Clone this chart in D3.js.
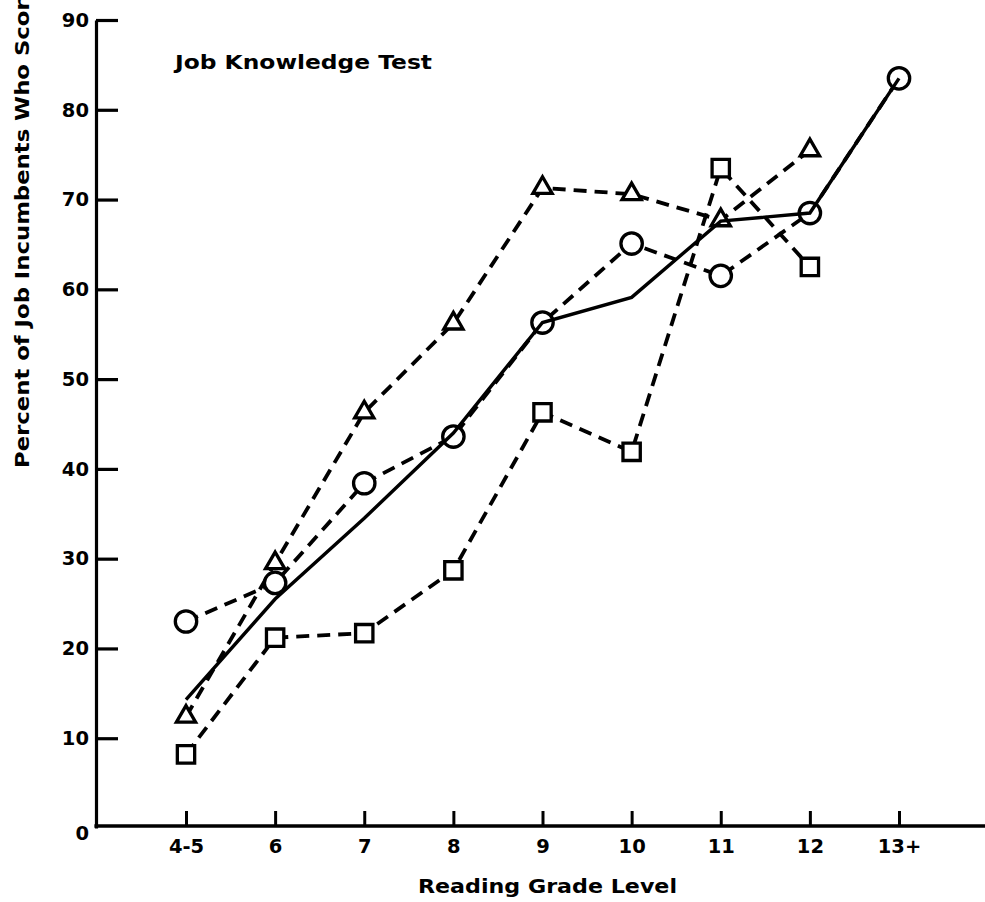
<!DOCTYPE html>
<html>
<head>
<meta charset="utf-8">
<script src="https://cdn.jsdelivr.net/npm/d3@7"></script>
<style>
  body { margin: 0; background: #fff; }
  svg { display: block; font-family: "DejaVu Sans", sans-serif; font-weight: bold; }
</style>
</head>
<body>
<svg id="chart" width="985" height="902"></svg>
<script>
// reading grade levels on the x axis
let grades = ["4-5", "6", "7", "8", "9", "10", "11", "12", "13+"]
// solid line, all incumbents
let allLine = [14.3, 25.5, 34.5, 44, 56.3, 59.1, 67.6, 68.5, 83.5]
// dashed series with markers
let circleSeries = [23, 27.3, 38.4, 43.6, 56.3, 65.1, 61.5, 68.5, 83.5]
let triangleSeries = [12.4, 29.5, 46.3, 56.2, 71.3, 70.6, 67.7, 75.5]
let squareSeries = [8.2, 21.2, 21.7, 28.7, 46.3, 41.9, 73.5, 62.5]
let yTicks = [0, 10, 20, 30, 40, 50, 60, 70, 80, 90]

let svg = d3.select("#chart")
let axisX0 = 96

let x = d3.scalePoint().domain(grades).range([186, 899])
let y = d3.scaleLinear().domain([0, 90]).range([828, 20])

function styleTicks(g) {
    g.selectAll("text")
        .attr("fill", "#000")
        .style("font-size", "19.5px")
        .style("font-family", "DejaVu Sans")
        .style("font-weight", "bold")
}

// y axis, ticks pointing inward
let yAxis = d3.axisLeft(y).tickValues(yTicks).tickSize(-22).tickSizeOuter(0).tickPadding(7)
let yAxisGroup = svg.append("g")
    .attr("transform", `translate(${axisX0},0)`)
    .call(yAxis)
yAxisGroup.selectAll("path, line").attr("stroke", "#000").attr("stroke-width", 3.2)
styleTicks(yAxisGroup)
yAxisGroup.selectAll(".tick").filter(d => d == 0).select("line").remove()
yAxisGroup.selectAll(".tick").filter(d => d == 0).select("text").attr("dy", "0.6em")

// x axis, ticks pointing up
let xAxis = d3.axisBottom(x).tickSize(-15).tickSizeOuter(0).tickPadding(13)
let xAxisGroup = svg.append("g")
    .attr("transform", `translate(0,${y(0) - 2})`)
    .call(xAxis)
xAxisGroup.select(".domain").remove()
xAxisGroup.selectAll("line").attr("stroke", "#000").attr("stroke-width", 3)
styleTicks(xAxisGroup)

// baseline runs past the last category to the page edge
svg.append("line")
    .attr("x1", axisX0 - 1.6).attr("x2", 985)
    .attr("y1", y(0) - 2).attr("y2", y(0) - 2)
    .attr("stroke", "#000").attr("stroke-width", 3.6)

let line = d3.line()
    .x((d, i) => x(grades[i]))
    .y(d => y(d))

function dashed(values) {
    svg.append("path")
        .datum(values)
        .attr("d", line)
        .attr("fill", "none")
        .attr("stroke", "#000")
        .attr("stroke-width", 3.8)
        .attr("stroke-dasharray", "13,8")
}
dashed(circleSeries)
dashed(triangleSeries)
dashed(squareSeries)

function markers(values, type, size) {
    svg.append("g").selectAll("path")
        .data(values)
        .join("path")
        .attr("transform", (d, i) => `translate(${x(grades[i])},${y(d)})`)
        .attr("d", d3.symbol().type(type).size(size))
        .attr("fill", "#fff")
        .attr("stroke", "#000")
        .attr("stroke-width", 3.3)
}
markers(circleSeries, d3.symbolCircle, 360)
markers(triangleSeries, d3.symbolTriangle, 160)
markers(squareSeries, d3.symbolSquare, 300)

// solid line drawn last, it runs through the circles
svg.append("path")
    .datum(allLine)
    .attr("d", line)
    .attr("fill", "none")
    .attr("stroke", "#000")
    .attr("stroke-width", 3.4)

svg.append("text")
    .attr("x", 175).attr("y", 69)
    .attr("textLength", 257).attr("lengthAdjust", "spacingAndGlyphs")
    .style("font-size", "20px")
    .text("Job Knowledge Test")

svg.append("text")
    .attr("x", 418).attr("y", 893)
    .attr("textLength", 259).attr("lengthAdjust", "spacingAndGlyphs")
    .style("font-size", "20px")
    .text("Reading Grade Level")

svg.append("text")
    .attr("transform", "translate(29,468) rotate(-90)")
    .attr("textLength", 484).attr("lengthAdjust", "spacingAndGlyphs")
    .style("font-size", "20px")
    .text("Percent of Job Incumbents Who Score")
</script>
</body>
</html>
